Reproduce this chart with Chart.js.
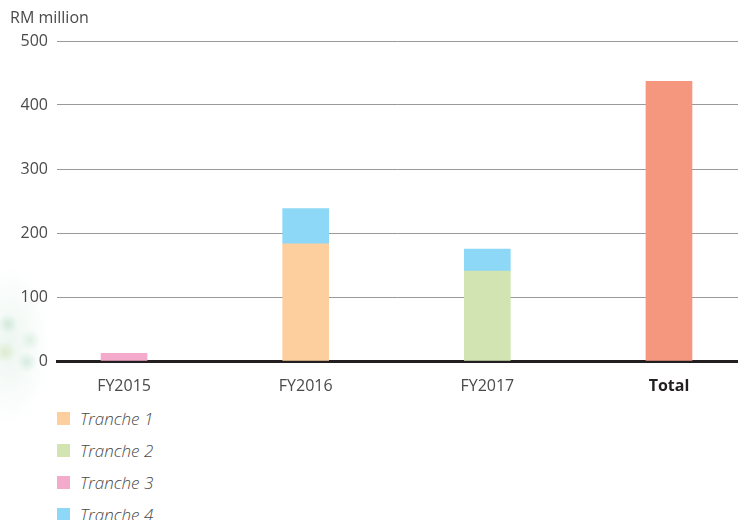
<!DOCTYPE html>
<html>
<head>
<meta charset="utf-8">
<script src="https://cdn.jsdelivr.net/npm/chart.js@4"></script>
<style>
    body { margin: 0; background: #fff; font-family: 'Open Sans', sans-serif; }
    #wrap { position: relative; width: 738px; height: 520px; overflow: hidden; }
    #blobs {
        position: absolute; left: 0; top: 250px; width: 70px; height: 180px;
        background:
            radial-gradient(circle at 8px 74px, rgba(170,215,185,0.45) 0, rgba(170,215,185,0) 10px),
            radial-gradient(circle at 5px 102px, rgba(200,225,170,0.5) 0, rgba(200,225,170,0) 11px),
            radial-gradient(circle at 30px 90px, rgba(180,220,195,0.35) 0, rgba(180,220,195,0) 10px),
            radial-gradient(circle at 27px 112px, rgba(170,215,190,0.4) 0, rgba(170,215,190,0) 10px),
            radial-gradient(ellipse 40px 80px at 10px 95px, rgba(225,240,232,0.6), rgba(255,255,255,0));
    }
    #chartBox { position: absolute; left: 0; top: 0; width: 738px; height: 400px; }
    #unit { position: absolute; left: 10px; top: 6px; font-size: 16px; color: #4a4a4a; }
    #legend { position: absolute; left: 57px; top: 402px; }
    .lg-item { height: 32px; display: flex; align-items: center; }
    .lg-box { width: 13px; height: 13px; margin-right: 10px; }
    .lg-text { font-style: italic; font-size: 17px; color: #4a4a4a; font-weight: 300; }
</style>
</head>
<body>
<div id="wrap">
    <div id="blobs"></div>
    <div id="chartBox"><canvas id="chart" width="738" height="400"></canvas></div>
    <div id="unit">RM million</div>
    <div id="legend"></div>
</div>
<script>
const categories = ['FY2015', 'FY2016', 'FY2017', 'Total'];
const tranche1 = [null, 183, null, null];
const tranche2 = [null, null, 140.5, null];
const tranche3 = [12, null, null, null];
const tranche4 = [null, 55, 34.5, null];
const totalValues = [null, null, null, 437];
const yTicks = [0, 100, 200, 300, 400, 500];

const series = [
    { label: 'Tranche 1', values: tranche1, color: '#FDCF9E', legend: true },
    { label: 'Tranche 2', values: tranche2, color: '#D1E4B1', legend: true },
    { label: 'Tranche 3', values: tranche3, color: '#F4AACB', legend: true },
    { label: 'Tranche 4', values: tranche4, color: '#8DD7F7', legend: true },
    { label: 'Total', values: totalValues, color: '#F5977F', legend: false }
];

const tickFont = { family: "'Open Sans', sans-serif", size: 16, weight: 'normal' };

new Chart(document.getElementById('chart').getContext('2d'), {
    type: 'bar',
    data: {
        datasets: series.map(s => ({
            label: s.label,
            data: s.values.map((v, i) => ({ x: i, y: v })),
            backgroundColor: s.color,
            barThickness: 46
        }))
    },
    options: {
        responsive: false,
        animation: false,
        layout: { padding: { top: 41, right: 0, left: 0, bottom: 0 } },
        plugins: { legend: { display: false }, tooltip: { enabled: false } },
        scales: {
            x: {
                type: 'linear',
                offset: false,
                min: -0.369,
                max: 3.38,
                stacked: true,
                z: 1,
                afterFit: s => { s.height = 39; },
                grid: { display: false },
                border: { color: '#231f20', width: 3 },
                ticks: {
                    stepSize: 1,
                    includeBounds: false,
                    padding: 8,
                    color: ctx => ctx.tick.value === 3 ? '#231f20' : '#4a4a4a',
                    font: ctx => ctx.tick && ctx.tick.value === 3
                        ? { family: "'Open Sans', sans-serif", size: 16, weight: 'bold' }
                        : tickFont,
                    callback: v => categories[v] ?? ''
                }
            },
            y: {
                stacked: true,
                min: 0,
                max: 500,
                z: 1,
                afterFit: s => { s.width = 57; },
                afterBuildTicks: s => { s.ticks = yTicks.map(v => ({ value: v })); },
                border: { display: false },
                grid: { color: 'rgba(110,110,110,0.7)', lineWidth: 1, drawTicks: false },
                ticks: { padding: 9, color: '#4a4a4a', font: tickFont }
            }
        }
    }
});

document.getElementById('legend').innerHTML = series.filter(s => s.legend).map(s => `
    <div class="lg-item">
        <div class="lg-box" style="background:${s.color}"></div>
        <div class="lg-text">${s.label}</div>
    </div>
`).join('');
</script>
</body>
</html>
